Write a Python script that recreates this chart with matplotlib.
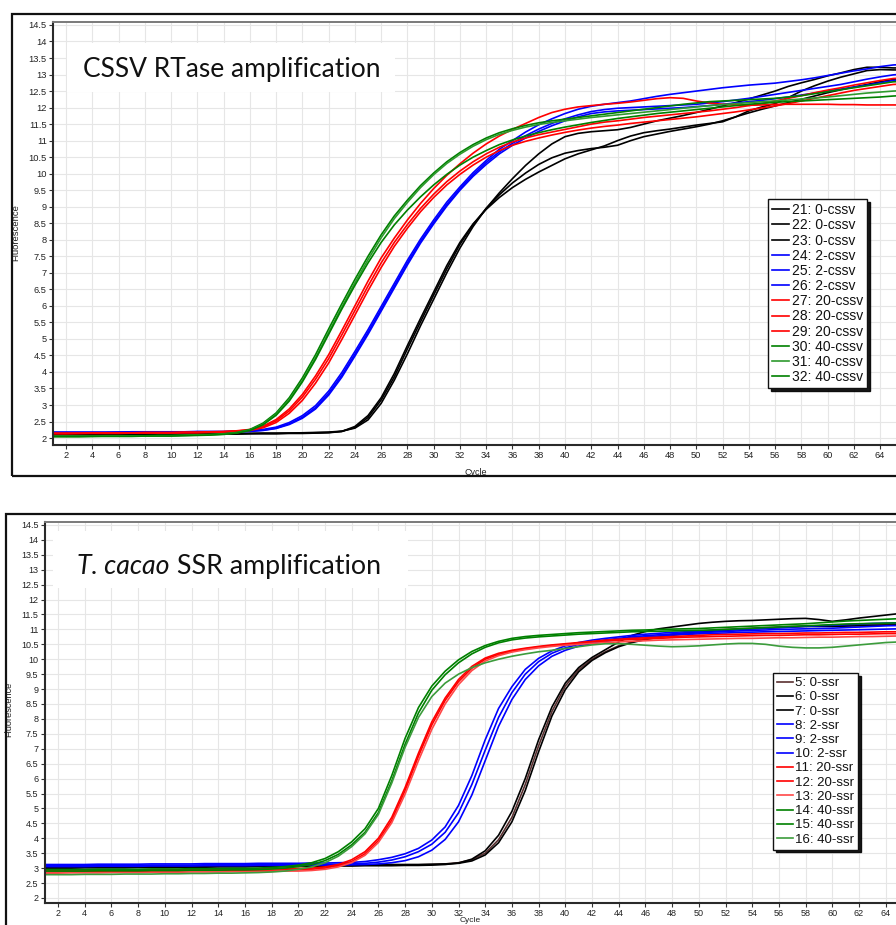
import numpy as np
import matplotlib
matplotlib.use("Agg")
import matplotlib.pyplot as plt
from matplotlib.patches import Rectangle
from matplotlib.text import Annotation
from matplotlib.ticker import FuncFormatter

plt.rcParams['font.family'] = ['Liberation Sans', 'DejaVu Sans']

W, H = 896, 925

cycles = np.arange(1, 67)

# ---- CSSV RTase run (wells 21-32) ----
cssv_labels = ['21: 0-cssv', '22: 0-cssv', '23: 0-cssv',
               '24: 2-cssv', '25: 2-cssv', '26: 2-cssv',
               '27: 20-cssv', '28: 20-cssv', '29: 20-cssv',
               '30: 40-cssv', '31: 40-cssv', '32: 40-cssv']
cssv_colors = ['#000000', '#000000', '#000000',
               '#0000ff', '#0000ff', '#0000ff',
               '#ff0000', '#ff0000', '#ff0000',
               '#008000', '#2e9a2e', '#008000']

cssv_21 = [2.12, 2.12, 2.12, 2.12, 2.12, 2.13, 2.13, 2.13, 2.13, 2.13,
           2.13, 2.14, 2.14, 2.14, 2.14, 2.14, 2.15, 2.15, 2.15, 2.16,
           2.17, 2.18, 2.21, 2.30, 2.55, 3.05, 3.75, 4.55, 5.40, 6.20,
           7.00, 7.75, 8.40, 8.95, 9.42, 9.85, 10.25, 10.60, 10.90, 11.12,
           11.22, 11.27, 11.30, 11.33, 11.40, 11.50, 11.60, 11.68, 11.76, 11.85,
           11.95, 12.05, 12.15, 12.26, 12.38, 12.50, 12.64, 12.75, 12.85, 12.96,
           13.05, 13.15, 13.22, 13.22, 13.20, 13.20]
cssv_22 = [2.10, 2.10, 2.10, 2.10, 2.10, 2.11, 2.11, 2.11, 2.11, 2.11,
           2.11, 2.12, 2.12, 2.12, 2.12, 2.13, 2.13, 2.13, 2.14, 2.14,
           2.15, 2.16, 2.20, 2.35, 2.68, 3.22, 3.95, 4.80, 5.62, 6.42,
           7.22, 7.92, 8.48, 8.92, 9.28, 9.58, 9.83, 10.05, 10.25, 10.45,
           10.60, 10.72, 10.84, 11.00, 11.14, 11.24, 11.30, 11.35, 11.41, 11.47,
           11.52, 11.57, 11.72, 11.90, 12.02, 12.12, 12.30, 12.50, 12.66, 12.80,
           12.92, 13.02, 13.12, 13.15, 13.14, 13.14]
cssv_23 = [2.11, 2.11, 2.11, 2.11, 2.11, 2.12, 2.12, 2.12, 2.12, 2.12,
           2.12, 2.13, 2.13, 2.13, 2.13, 2.14, 2.14, 2.14, 2.15, 2.15,
           2.16, 2.17, 2.20, 2.32, 2.62, 3.15, 3.85, 4.70, 5.52, 6.33,
           7.12, 7.86, 8.46, 8.95, 9.36, 9.72, 10.02, 10.28, 10.48, 10.62,
           10.70, 10.76, 10.80, 10.86, 11.00, 11.12, 11.20, 11.28, 11.35, 11.42,
           11.50, 11.60, 11.72, 11.84, 11.95, 12.05, 12.15, 12.25, 12.35, 12.45,
           12.54, 12.62, 12.70, 12.78, 12.85, 12.88]
cssv_24 = [2.18, 2.18, 2.18, 2.18, 2.18, 2.18, 2.19, 2.19, 2.19, 2.19,
           2.19, 2.20, 2.20, 2.20, 2.21, 2.22, 2.26, 2.33, 2.47, 2.68,
           2.98, 3.42, 3.98, 4.62, 5.28, 5.98, 6.68, 7.38, 8.02, 8.60,
           9.14, 9.60, 10.03, 10.40, 10.74, 11.00, 11.26, 11.48, 11.66, 11.82,
           11.95, 12.04, 12.10, 12.15, 12.20, 12.27, 12.34, 12.40, 12.45, 12.50,
           12.55, 12.60, 12.64, 12.68, 12.71, 12.74, 12.79, 12.84, 12.90, 12.97,
           13.04, 13.11, 13.17, 13.24, 13.29, 13.31]
cssv_25 = [2.17, 2.17, 2.17, 2.17, 2.17, 2.18, 2.18, 2.18, 2.18, 2.18,
           2.18, 2.19, 2.19, 2.19, 2.20, 2.21, 2.24, 2.30, 2.43, 2.63,
           2.92, 3.35, 3.90, 4.54, 5.20, 5.90, 6.60, 7.30, 7.95, 8.53,
           9.07, 9.54, 9.97, 10.34, 10.66, 10.92, 11.15, 11.35, 11.52, 11.66,
           11.78, 11.88, 11.94, 11.98, 12.00, 12.02, 12.04, 12.06, 12.08, 12.10,
           12.14, 12.18, 12.23, 12.28, 12.34, 12.40, 12.46, 12.52, 12.58, 12.64,
           12.70, 12.78, 12.86, 12.93, 12.99, 13.02]
cssv_26 = [2.16, 2.16, 2.16, 2.16, 2.16, 2.17, 2.17, 2.17, 2.17, 2.17,
           2.17, 2.18, 2.18, 2.18, 2.19, 2.20, 2.23, 2.29, 2.41, 2.60,
           2.88, 3.30, 3.84, 4.48, 5.14, 5.84, 6.54, 7.24, 7.90, 8.48,
           9.02, 9.50, 9.92, 10.28, 10.60, 10.86, 11.08, 11.28, 11.45, 11.60,
           11.72, 11.82, 11.87, 11.90, 11.92, 11.94, 11.96, 11.98, 12.00, 12.03,
           12.06, 12.10, 12.14, 12.18, 12.22, 12.27, 12.32, 12.38, 12.44, 12.50,
           12.56, 12.62, 12.68, 12.75, 12.82, 12.86]
cssv_27 = [2.15, 2.15, 2.15, 2.16, 2.16, 2.16, 2.16, 2.17, 2.17, 2.17,
           2.18, 2.18, 2.19, 2.20, 2.22, 2.26, 2.36, 2.56, 2.88, 3.32,
           3.88, 4.52, 5.25, 6.00, 6.75, 7.45, 8.05, 8.60, 9.10, 9.55,
           9.95, 10.30, 10.62, 10.90, 11.14, 11.34, 11.52, 11.70, 11.85, 11.95,
           12.02, 12.06, 12.10, 12.13, 12.17, 12.22, 12.27, 12.30, 12.28, 12.20,
           12.14, 12.10, 12.08, 12.07, 12.08, 12.10, 12.10, 12.10, 12.10, 12.10,
           12.09, 12.09, 12.08, 12.08, 12.08, 12.08]
cssv_28 = [2.14, 2.14, 2.14, 2.15, 2.15, 2.15, 2.15, 2.16, 2.16, 2.16,
           2.17, 2.17, 2.18, 2.19, 2.21, 2.25, 2.34, 2.52, 2.82, 3.24,
           3.78, 4.40, 5.12, 5.86, 6.60, 7.30, 7.92, 8.46, 8.95, 9.38,
           9.76, 10.08, 10.36, 10.60, 10.80, 10.96, 11.08, 11.18, 11.26, 11.34,
           11.42, 11.50, 11.56, 11.60, 11.65, 11.70, 11.74, 11.78, 11.82, 11.86,
           11.90, 11.95, 12.00, 12.06, 12.12, 12.20, 12.28, 12.36, 12.45, 12.53,
           12.60, 12.68, 12.75, 12.82, 12.88, 12.90]
cssv_29 = [2.13, 2.13, 2.14, 2.14, 2.14, 2.14, 2.15, 2.15, 2.15, 2.15,
           2.16, 2.16, 2.17, 2.18, 2.20, 2.23, 2.31, 2.47, 2.75, 3.14,
           3.66, 4.27, 4.98, 5.72, 6.46, 7.16, 7.80, 8.35, 8.85, 9.28,
           9.66, 9.98, 10.26, 10.50, 10.70, 10.86, 10.98, 11.08, 11.17, 11.25,
           11.32, 11.38, 11.43, 11.47, 11.52, 11.56, 11.60, 11.64, 11.68, 11.72,
           11.77, 11.82, 11.87, 11.93, 11.99, 12.05, 12.12, 12.20, 12.28, 12.36,
           12.44, 12.52, 12.58, 12.64, 12.70, 12.72]
cssv_30 = [2.06, 2.06, 2.06, 2.06, 2.07, 2.07, 2.07, 2.07, 2.08, 2.08,
           2.09, 2.10, 2.11, 2.13, 2.17, 2.26, 2.45, 2.76, 3.22, 3.82,
           4.52, 5.30, 6.06, 6.80, 7.50, 8.15, 8.72, 9.20, 9.64, 10.02,
           10.36, 10.64, 10.88, 11.08, 11.24, 11.36, 11.46, 11.54, 11.60, 11.65,
           11.70, 11.75, 11.80, 11.85, 11.90, 11.95, 12.00, 12.05, 12.10, 12.14,
           12.18, 12.20, 12.22, 12.24, 12.26, 12.28, 12.32, 12.36, 12.42, 12.48,
           12.54, 12.60, 12.66, 12.72, 12.78, 12.80]
cssv_31 = [2.05, 2.05, 2.05, 2.05, 2.06, 2.06, 2.06, 2.06, 2.07, 2.07,
           2.08, 2.09, 2.10, 2.12, 2.16, 2.24, 2.42, 2.72, 3.16, 3.74,
           4.43, 5.20, 5.96, 6.70, 7.40, 8.06, 8.64, 9.13, 9.58, 9.97,
           10.31, 10.59, 10.83, 11.03, 11.19, 11.31, 11.41, 11.49, 11.55, 11.60,
           11.65, 11.70, 11.74, 11.78, 11.82, 11.86, 11.90, 11.94, 11.98, 12.02,
           12.06, 12.09, 12.12, 12.15, 12.18, 12.20, 12.23, 12.26, 12.29, 12.32,
           12.36, 12.40, 12.44, 12.47, 12.50, 12.52]
cssv_32 = [2.04, 2.04, 2.04, 2.05, 2.05, 2.05, 2.05, 2.06, 2.06, 2.06,
           2.07, 2.08, 2.09, 2.11, 2.15, 2.23, 2.40, 2.69, 3.12, 3.70,
           4.38, 5.14, 5.90, 6.62, 7.30, 7.92, 8.45, 8.90, 9.30, 9.66,
           9.98, 10.26, 10.50, 10.70, 10.88, 11.02, 11.14, 11.24, 11.33, 11.41,
           11.48, 11.55, 11.61, 11.67, 11.72, 11.77, 11.82, 11.86, 11.90, 11.94,
           11.98, 12.02, 12.06, 12.10, 12.13, 12.16, 12.18, 12.20, 12.22, 12.24,
           12.26, 12.28, 12.30, 12.32, 12.35, 12.37]

# ---- T. cacao SSR run (wells 5-16) ----
ssr_labels = ['5: 0-ssr', '6: 0-ssr', '7: 0-ssr',
              '8: 2-ssr', '9: 2-ssr', '10: 2-ssr',
              '11: 20-ssr', '12: 20-ssr', '13: 20-ssr',
              '14: 40-ssr', '15: 40-ssr', '16: 40-ssr']
ssr_colors = ['#5a3030', '#000000', '#000000',
              '#0000ff', '#0000ff', '#0000ff',
              '#ff0000', '#ff0000', '#ff4848',
              '#008000', '#008000', '#3c9c3c']

ssr_5 = [3.02, 3.02, 3.02, 3.03, 3.03, 3.03, 3.03, 3.04, 3.04, 3.04,
         3.05, 3.05, 3.05, 3.06, 3.06, 3.06, 3.07, 3.07, 3.07, 3.08,
         3.08, 3.08, 3.09, 3.09, 3.10, 3.10, 3.10, 3.11, 3.11, 3.12,
         3.14, 3.18, 3.28, 3.50, 3.95, 4.70, 5.80, 7.10, 8.25, 9.10,
         9.65, 10.00, 10.25, 10.45, 10.58, 10.68, 10.76, 10.83, 10.89, 10.94,
         10.98, 11.00, 11.02, 11.04, 11.06, 11.08, 11.10, 11.11, 11.12, 11.13,
         11.14, 11.15, 11.16, 11.17, 11.18, 11.18]
ssr_6 = [3.00, 3.00, 3.00, 3.01, 3.01, 3.01, 3.01, 3.02, 3.02, 3.02,
         3.03, 3.03, 3.03, 3.04, 3.04, 3.04, 3.05, 3.05, 3.05, 3.06,
         3.06, 3.06, 3.07, 3.07, 3.08, 3.08, 3.08, 3.09, 3.09, 3.10,
         3.12, 3.17, 3.30, 3.58, 4.10, 4.90, 6.00, 7.30, 8.40, 9.20,
         9.72, 10.06, 10.32, 10.58, 10.80, 10.93, 11.02, 11.08, 11.14, 11.20,
         11.24, 11.27, 11.29, 11.30, 11.32, 11.34, 11.36, 11.37, 11.33, 11.27,
         11.32, 11.38, 11.43, 11.48, 11.53, 11.55]
ssr_7 = [3.04, 3.04, 3.04, 3.04, 3.05, 3.05, 3.05, 3.05, 3.06, 3.06,
         3.06, 3.07, 3.07, 3.07, 3.08, 3.08, 3.08, 3.09, 3.09, 3.09,
         3.10, 3.10, 3.10, 3.11, 3.11, 3.11, 3.12, 3.12, 3.12, 3.13,
         3.14, 3.16, 3.24, 3.44, 3.85, 4.55, 5.60, 6.90, 8.10, 8.98,
         9.58, 9.96, 10.22, 10.42, 10.56, 10.66, 10.74, 10.80, 10.86, 10.90,
         10.94, 10.97, 11.00, 11.02, 11.04, 11.06, 11.08, 11.10, 11.10, 11.10,
         11.11, 11.12, 11.13, 11.14, 11.15, 11.16]
ssr_8 = [3.12, 3.12, 3.12, 3.12, 3.13, 3.13, 3.13, 3.13, 3.14, 3.14,
         3.14, 3.14, 3.15, 3.15, 3.15, 3.15, 3.16, 3.16, 3.16, 3.16,
         3.17, 3.17, 3.18, 3.19, 3.22, 3.28, 3.36, 3.48, 3.66, 3.94,
         4.38, 5.10, 6.10, 7.30, 8.35, 9.08, 9.66, 10.03, 10.28, 10.45,
         10.56, 10.64, 10.70, 10.75, 10.80, 10.84, 10.87, 10.90, 10.92, 10.94,
         10.96, 10.98, 11.00, 11.02, 11.04, 11.06, 11.08, 11.10, 11.12, 11.14,
         11.16, 11.18, 11.20, 11.21, 11.22, 11.22]
ssr_9 = [3.08, 3.08, 3.08, 3.08, 3.09, 3.09, 3.09, 3.09, 3.10, 3.10,
         3.10, 3.10, 3.11, 3.11, 3.11, 3.11, 3.12, 3.12, 3.12, 3.12,
         3.13, 3.13, 3.13, 3.14, 3.16, 3.20, 3.27, 3.38, 3.55, 3.80,
         4.20, 4.85, 5.80, 6.95, 8.05, 8.88, 9.50, 9.92, 10.20, 10.38,
         10.50, 10.58, 10.65, 10.70, 10.75, 10.79, 10.82, 10.85, 10.87, 10.89,
         10.91, 10.93, 10.95, 10.97, 10.98, 11.00, 11.01, 11.02, 11.03, 11.04,
         11.06, 11.08, 11.10, 11.12, 11.13, 11.14]
ssr_10 = [3.05, 3.05, 3.05, 3.05, 3.06, 3.06, 3.06, 3.06, 3.07, 3.07,
          3.07, 3.07, 3.08, 3.08, 3.08, 3.08, 3.09, 3.09, 3.09, 3.09,
          3.10, 3.10, 3.10, 3.11, 3.12, 3.14, 3.18, 3.25, 3.38, 3.60,
          3.96, 4.55, 5.45, 6.60, 7.75, 8.65, 9.32, 9.78, 10.10, 10.30,
          10.44, 10.53, 10.60, 10.66, 10.71, 10.75, 10.78, 10.81, 10.83, 10.85,
          10.87, 10.88, 10.90, 10.91, 10.92, 10.93, 10.94, 10.95, 10.96, 10.97,
          10.98, 10.99, 11.00, 11.01, 11.02, 11.03]
ssr_11 = [2.92, 2.92, 2.92, 2.93, 2.93, 2.93, 2.94, 2.94, 2.94, 2.95,
          2.95, 2.95, 2.96, 2.96, 2.96, 2.97, 2.97, 2.98, 2.98, 2.99,
          3.00, 3.04, 3.12, 3.28, 3.55, 4.00, 4.70, 5.70, 6.85, 7.90,
          8.70, 9.32, 9.76, 10.04, 10.20, 10.30, 10.37, 10.43, 10.48, 10.52,
          10.56, 10.60, 10.64, 10.67, 10.70, 10.72, 10.74, 10.76, 10.78, 10.80,
          10.82, 10.83, 10.84, 10.85, 10.86, 10.86, 10.87, 10.88, 10.88, 10.89,
          10.90, 10.90, 10.91, 10.92, 10.92, 10.93]
ssr_12 = [2.87, 2.87, 2.88, 2.88, 2.88, 2.89, 2.89, 2.89, 2.90, 2.90,
          2.90, 2.91, 2.91, 2.91, 2.92, 2.92, 2.93, 2.93, 2.94, 2.94,
          2.96, 3.00, 3.08, 3.22, 3.48, 3.92, 4.60, 5.60, 6.75, 7.80,
          8.62, 9.25, 9.70, 10.00, 10.16, 10.27, 10.35, 10.41, 10.46, 10.50,
          10.54, 10.58, 10.61, 10.64, 10.66, 10.68, 10.70, 10.72, 10.74, 10.75,
          10.76, 10.77, 10.78, 10.79, 10.80, 10.80, 10.81, 10.82, 10.82, 10.83,
          10.84, 10.84, 10.85, 10.86, 10.86, 10.87]
ssr_13 = [2.83, 2.83, 2.84, 2.84, 2.84, 2.85, 2.85, 2.85, 2.86, 2.86,
          2.86, 2.87, 2.87, 2.87, 2.88, 2.88, 2.89, 2.89, 2.90, 2.90,
          2.92, 2.96, 3.04, 3.18, 3.43, 3.86, 4.52, 5.48, 6.60, 7.65,
          8.50, 9.15, 9.62, 9.94, 10.12, 10.24, 10.32, 10.38, 10.43, 10.47,
          10.50, 10.53, 10.56, 10.58, 10.60, 10.62, 10.64, 10.65, 10.66, 10.67,
          10.68, 10.69, 10.70, 10.70, 10.71, 10.72, 10.72, 10.73, 10.74, 10.74,
          10.75, 10.76, 10.76, 10.77, 10.78, 10.78]
ssr_14 = [2.95, 2.95, 2.95, 2.95, 2.96, 2.96, 2.96, 2.96, 2.97, 2.97,
          2.97, 2.98, 2.98, 2.98, 2.99, 2.99, 3.00, 3.02, 3.05, 3.10,
          3.18, 3.32, 3.55, 3.88, 4.32, 5.00, 6.10, 7.35, 8.38, 9.10,
          9.60, 9.98, 10.26, 10.46, 10.60, 10.70, 10.76, 10.80, 10.83, 10.86,
          10.89, 10.91, 10.93, 10.95, 10.97, 10.98, 11.00, 11.01, 11.02, 11.03,
          11.05, 11.07, 11.09, 11.11, 11.13, 11.15, 11.17, 11.19, 11.22, 11.25,
          11.28, 11.30, 11.32, 11.34, 11.36, 11.37]
ssr_15 = [2.90, 2.90, 2.90, 2.90, 2.91, 2.91, 2.91, 2.91, 2.92, 2.92,
          2.92, 2.93, 2.93, 2.93, 2.94, 2.94, 2.95, 2.97, 3.00, 3.05,
          3.12, 3.25, 3.46, 3.78, 4.20, 4.86, 5.92, 7.15, 8.20, 8.96,
          9.48, 9.88, 10.18, 10.40, 10.55, 10.65, 10.71, 10.75, 10.78, 10.81,
          10.84, 10.86, 10.88, 10.90, 10.92, 10.93, 10.94, 10.95, 10.96, 10.97,
          10.98, 11.00, 11.02, 11.04, 11.06, 11.08, 11.10, 11.12, 11.14, 11.16,
          11.18, 11.19, 11.20, 11.21, 11.22, 11.23]
ssr_16 = [2.78, 2.78, 2.78, 2.79, 2.79, 2.79, 2.80, 2.80, 2.80, 2.81,
          2.81, 2.82, 2.82, 2.83, 2.83, 2.84, 2.85, 2.87, 2.90, 2.96,
          3.04, 3.18, 3.40, 3.72, 4.15, 4.80, 5.85, 7.05, 8.05, 8.75,
          9.20, 9.50, 9.72, 9.88, 10.00, 10.10, 10.18, 10.25, 10.30, 10.36,
          10.42, 10.48, 10.52, 10.52, 10.50, 10.47, 10.44, 10.42, 10.43, 10.45,
          10.48, 10.51, 10.53, 10.53, 10.50, 10.44, 10.40, 10.38, 10.38, 10.40,
          10.44, 10.48, 10.52, 10.56, 10.58, 10.60]

cssv_series = [cssv_21, cssv_22, cssv_23, cssv_24, cssv_25, cssv_26,
               cssv_27, cssv_28, cssv_29, cssv_30, cssv_31, cssv_32]
ssr_series = [ssr_5, ssr_6, ssr_7, ssr_8, ssr_9, ssr_10,
              ssr_11, ssr_12, ssr_13, ssr_14, ssr_15, ssr_16]


def fx(x):
    return x / W


def fy(y):
    return 1 - y / H


fig = plt.figure(figsize=(W / 100, H / 100), dpi=100)
fig.patch.set_facecolor('white')

# outer frames of the two instrument windows
fig.add_artist(Rectangle((fx(12), fy(476)), 2, fy(14) - fy(476), fill=False,
                         edgecolor='#111111', lw=1.6, transform=fig.transFigure))
fig.add_artist(Rectangle((fx(6), -1), 2, fy(514) + 1, fill=False,
                         edgecolor='#111111', lw=1.6, transform=fig.transFigure))

# axes positions: x from cycle 1 to 67, right side runs off the canvas
ax1 = fig.add_axes([fx(52.9), fy(445), (919.5 - 52.9) / W, (445 - 22) / H])
ax2 = fig.add_axes([fx(44.65), fy(903), (925.75 - 44.65) / W, (903 - 522) / H])


def style_axes(ax, ylo, yhi, tick_size):
    ax.set_xlim(1, 67)
    ax.set_ylim(ylo, yhi)
    ax.set_xticks(np.arange(2, 65, 2))
    ax.set_yticks(np.arange(2, 14.51, 0.5))
    ax.yaxis.set_major_formatter(FuncFormatter(lambda v, p: '%g' % v))
    ax.grid(True, color='#e6e6e6', lw=0.8)
    ax.set_axisbelow(True)
    ax.tick_params(labelsize=tick_size, length=3, width=0.8, color='#333333',
                   pad=1.5, labelcolor='#222222')
    for side in ('left', 'bottom'):
        ax.spines[side].set_color('#2a2a2a')
        ax.spines[side].set_linewidth(1.5)
    ax.spines['top'].set_color('#7a7a7a')
    ax.spines['top'].set_linewidth(1.4)
    ax.spines['right'].set_visible(False)


style_axes(ax1, 1.79, 14.59, 6.7)
style_axes(ax2, 1.83, 14.60, 6.5)

for vals, col, lab in zip(cssv_series, cssv_colors, cssv_labels):
    ax1.plot(cycles, vals, color=col, lw=1.2, label=lab)
for vals, col, lab in zip(ssr_series, ssr_colors, ssr_labels):
    ax2.plot(cycles, vals, color=col, lw=1.2, label=lab)

ax1.set_ylabel('Fluorescence', fontsize=6.8, color='#222222')
ax1.yaxis.set_label_coords(-0.038, 0.503)
ax1.set_xlabel('Cycle', fontsize=6.5, color='#222222')
ax1.xaxis.set_label_coords(0.488, -0.054)
ax2.set_ylabel('Fluorescence', fontsize=6.6, color='#222222')
ax2.yaxis.set_label_coords(-0.036, 0.507)
ax2.set_xlabel('Cycle', fontsize=6.0, color='#222222', va='bottom')
ax2.xaxis.set_label_coords(0.483, -0.055)


def add_legend(ax, x, y, size, spacing):
    leg = ax.legend(loc='upper left', bbox_to_anchor=(fx(x), fy(y)),
                    bbox_transform=fig.transFigure, fontsize=size,
                    frameon=True, fancybox=False,
                    shadow={'color': 'black', 'alpha': 0.9},
                    borderpad=0.3, labelspacing=spacing, handlelength=1.2,
                    handletextpad=0.2, borderaxespad=0)
    leg.get_frame().set_edgecolor('#111111')
    leg.get_frame().set_linewidth(1.0)
    leg.get_frame().set_alpha(1)
    for t in leg.get_texts():
        t.set_color('#111111')
    return leg


add_legend(ax1, 768, 199, 10, 0.085)
add_legend(ax2, 773, 673, 9.5, 0.15)

# white title boxes over the grid
title_font = ['Lato', 'DejaVu Sans']
fig.add_artist(Rectangle((fx(67), fy(92)), fx(395) - fx(67), fy(43) - fy(92),
                         facecolor='white', edgecolor='none',
                         transform=fig.transFigure, zorder=5))
fig.text(fx(83), fy(77), 'CSSV RTase amplification', fontsize=19,
         family=title_font, color='#111111', va='baseline', zorder=6)

fig.add_artist(Rectangle((fx(53), fy(588)), fx(408) - fx(53), fy(531) - fy(588),
                         facecolor='white', edgecolor='none',
                         transform=fig.transFigure, zorder=5))
t1 = fig.text(fx(77), fy(574), 'T. cacao', fontsize=19.3, style='italic',
              family=title_font, color='#111111', va='baseline', zorder=6)
fig.add_artist(Annotation(' SSR amplification', xy=(1, 0), xycoords=t1,
                          va='bottom', ha='left', fontsize=19.3,
                          family=title_font, color='#111111', zorder=6))

fig.savefig('out.png', dpi=100)
